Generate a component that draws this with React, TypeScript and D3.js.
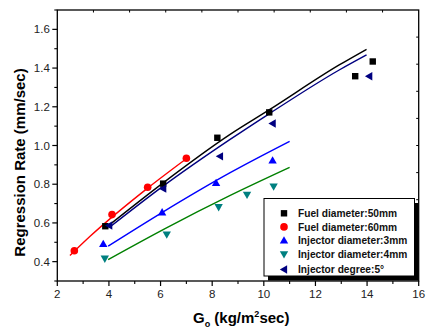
import React from "react";
import * as d3 from "d3";

// measured points
const fuel50X = [3.86, 6.1, 8.2, 10.21, 13.54, 14.22];
const fuel50Y = [0.583, 0.803, 1.04, 1.171, 1.358, 1.434];
const fuel60X = [2.66, 4.12, 5.5, 7.0];
const fuel60Y = [0.456, 0.643, 0.784, 0.934];
const inj3X = [3.78, 6.06, 8.15, 10.34];
const inj3Y = [0.492, 0.655, 0.807, 0.923];
const inj4X = [3.84, 6.24, 8.25, 9.35, 10.38];
const inj4Y = [0.415, 0.54, 0.681, 0.745, 0.788];
const deg5X = [4.01, 6.1, 8.3, 10.34, 14.08];
const deg5Y = [0.587, 0.777, 0.944, 1.114, 1.358];

// fitted curves
const fit50X = [3.85, 6.1, 8.68, 10.22, 12.92, 13.98];
const fit50Y = [0.572, 0.807, 1.056, 1.185, 1.416, 1.497];
const fit60X = [2.49, 3.27, 5.5, 7.0];
const fit60Y = [0.432, 0.531, 0.78, 0.932];
const fit3X = [3.97, 6.04, 8.68, 11.0];
const fit3Y = [0.48, 0.652, 0.858, 1.021];
const fit4X = [3.97, 6.23, 8.68, 11.0];
const fit4Y = [0.411, 0.575, 0.741, 0.887];
const fitDegX = [4.0, 6.1, 8.68, 10.22, 12.92, 13.98];
const fitDegY = [0.575, 0.79, 1.03, 1.165, 1.39, 1.468];

const xTicks = [2, 4, 6, 8, 10, 12, 14, 16];
const yTicks = [0.4, 0.6, 0.8, 1.0, 1.2, 1.4, 1.6];
const legendLabels = [
  "Fuel diameter:50mm",
  "Fuel diameter:60mm",
  "Injector diameter:3mm",
  "Injector diameter:4mm",
  "Injector degree:5°",
];

const W = 426, H = 329;
const L = 57.3, R = 418.7, T = 10, B = 281;
const font = "'Liberation Sans', Arial, sans-serif";

type Shape = "square" | "circle" | "up" | "down" | "left";

function Marker({ shape, cx, cy, color }: { shape: Shape; cx: number; cy: number; color: string }) {
  if (shape === "square") return <rect x={cx - 3.2} y={cy - 3.2} width={6.4} height={6.4} fill={color} />;
  if (shape === "circle") return <circle cx={cx} cy={cy} r={3.8} fill={color} />;
  const s = 4.2;
  let pts = "";
  if (shape === "up") pts = `${cx},${cy - s} ${cx - s},${cy + s * 0.75} ${cx + s},${cy + s * 0.75}`;
  if (shape === "down") pts = `${cx},${cy + s} ${cx - s},${cy - s * 0.75} ${cx + s},${cy - s * 0.75}`;
  if (shape === "left") pts = `${cx - s},${cy} ${cx + s * 0.75},${cy - s} ${cx + s * 0.75},${cy + s}`;
  return <polygon points={pts} fill={color} />;
}

export default function App() {
  const x = d3.scaleLinear().domain([2, 16]).range([L, R]);
  const y = d3.scaleLinear().domain([0.3, 1.7]).range([B, T]);
  const line = d3
    .line<[number, number]>()
    .x((d) => x(d[0]))
    .y((d) => y(d[1]))
    .curve(d3.curveMonotoneX);
  const zip = (a: number[], b: number[]) => a.map((v, i) => [v, b[i]] as [number, number]);

  const series = [
    { xs: fuel50X, ys: fuel50Y, fx: fit50X, fy: fit50Y, shape: "square" as Shape, color: "#000000", lc: "#000000" },
    { xs: fuel60X, ys: fuel60Y, fx: fit60X, fy: fit60Y, shape: "circle" as Shape, color: "#ff0000", lc: "#ff0000" },
    { xs: inj3X, ys: inj3Y, fx: fit3X, fy: fit3Y, shape: "up" as Shape, color: "#0000ff", lc: "#0000ff" },
    { xs: inj4X, ys: inj4Y, fx: fit4X, fy: fit4Y, shape: "down" as Shape, color: "#008080", lc: "#008000" },
    { xs: deg5X, ys: deg5Y, fx: fitDegX, fy: fitDegY, shape: "left" as Shape, color: "#000080", lc: "#000080" },
  ];

  const xMinor = d3.range(3, 16, 2);
  const yMinor = d3.range(0.3, 1.71, 0.2);
  const frac = d3.range(1, 10);
  const topS = d3.scaleLinear().domain([0, 10]).range([L, R]);
  const rightS = d3.scaleLinear().domain([0, 10]).range([B, T]);

  const lgX = 264, lgY = 198.5, lgW = 150.5, lgH = 77.5;
  const rowY = [213.3, 226.9, 240.4, 254.4, 269.5];

  return (
    <svg width={W} height={H} style={{ position: "absolute", left: 0, top: 0, background: "#fff" }} fontFamily={font}>
      {/* fit lines */}
      {series.map((s, i) => (
        <path key={"l" + i} d={line(zip(s.fx, s.fy)) || ""} fill="none" stroke={s.lc} strokeWidth={1.4} />
      ))}
      {/* markers */}
      {series.map((s, i) =>
        s.xs.map((v, j) => <Marker key={`m${i}-${j}`} shape={s.shape} cx={x(v)} cy={y(s.ys[j])} color={s.color} />)
      )}

      {/* frame */}
      <rect x={L} y={T} width={R - L} height={B - T} fill="none" stroke="#000" strokeWidth={1.3} />
      {/* bottom axis ticks */}
      {xTicks.map((t) => (
        <g key={"xt" + t}>
          <line x1={x(t)} x2={x(t)} y1={B} y2={B + 5} stroke="#000" strokeWidth={1.2} />
          <text x={x(t)} y={B + 17} textAnchor="middle" fontSize={11.5} fill="#222">
            {t}
          </text>
        </g>
      ))}
      {xMinor.map((t) => (
        <line key={"xm" + t} x1={x(t)} x2={x(t)} y1={B} y2={B + 3} stroke="#000" strokeWidth={1.1} />
      ))}
      {/* left axis ticks */}
      {yTicks.map((t) => (
        <g key={"yt" + t}>
          <line x1={L - 5} x2={L} y1={y(t)} y2={y(t)} stroke="#000" strokeWidth={1.2} />
          <text x={L - 7.5} y={y(t) + 4} textAnchor="end" fontSize={11.5} fill="#222">
            {t.toFixed(1)}
          </text>
        </g>
      ))}
      {yMinor.map((t) => (
        <line key={"ym" + t} x1={L - 3} x2={L} y1={y(t)} y2={y(t)} stroke="#000" strokeWidth={1.1} />
      ))}
      {/* top and right mirror ticks */}
      {frac.map((f) => (
        <g key={"f" + f}>
          <line x1={topS(f)} x2={topS(f)} y1={T} y2={T + 2.5} stroke="#000" strokeWidth={1} />
          <line x1={R - 2.5} x2={R} y1={rightS(f)} y2={rightS(f)} stroke="#000" strokeWidth={1} />
        </g>
      ))}

      {/* legend */}
      <rect x={lgX + 4} y={lgY + 4.5} width={lgW} height={lgH} fill="#000" />
      <rect x={lgX} y={lgY} width={lgW} height={lgH} fill="#fff" stroke="#000" strokeWidth={1} />
      {series.map((s, i) => (
        <g key={"lg" + i}>
          <Marker shape={s.shape} cx={284} cy={rowY[i]} color={s.color} />
          <text x={298} y={rowY[i] + 3.8} fontSize={10.2} fontWeight="bold" fill="#111">
            {legendLabels[i]}
          </text>
        </g>
      ))}

      {/* axis titles */}
      <text x={193} y={323} fontSize={15} fontWeight="bold" fill="#000">
        G<tspan fontSize={9} dy={4}>o</tspan>
        <tspan dy={-4}> (kg/m</tspan>
        <tspan fontSize={9} dy={-6}>2</tspan>
        <tspan dy={6}>sec)</tspan>
      </text>
      <text
        transform={`translate(24.5,162.5) rotate(-90)`}
        textAnchor="middle"
        fontSize={15}
        fontWeight="bold"
        fill="#000"
      >
        Regression Rate (mm/sec)
      </text>
    </svg>
  );
}
